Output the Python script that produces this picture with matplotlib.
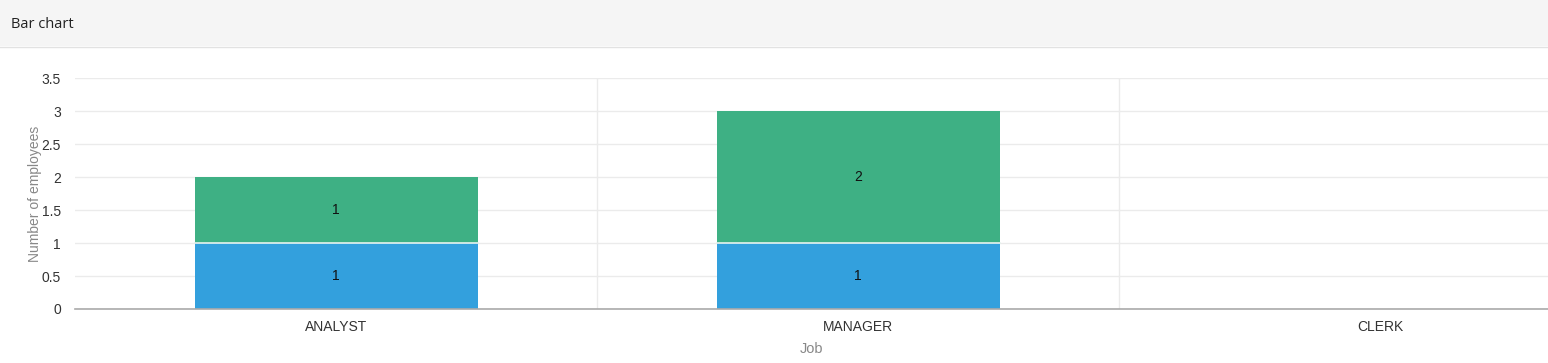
import matplotlib.pyplot as plt
import numpy as np

# Data
jobs = ["ANALYST", "MANAGER", "CLERK"]
series_a = [1, 1, 0]
series_b = [1, 2, 0]
colors = ["#33a0dd", "#3eb084"]

W, H = 1548, 363
fig = plt.figure(figsize=(W / 100, H / 100), dpi=100)
plt.rcParams["font.family"] = ["Liberation Sans", "DejaVu Sans"]

# Header band
fig.patches.append(plt.Rectangle((0, 1 - 46 / H), 1, 46 / H, transform=fig.transFigure,
                                 facecolor="#f5f5f5", edgecolor="none", zorder=0))
fig.lines.append(plt.Line2D([0, 1], [1 - 46.5 / H] * 2, transform=fig.transFigure,
                            color="#e2e2e2", lw=1))
fig.text(11 / W, 1 - 24 / H, "Bar chart", fontsize=10.5, family=["Open Sans", "DejaVu Sans"],
         color="#222222", va="center", ha="left")

# Plot area
left, right, top, bottom = 75, 1548, 78, 309
ax = fig.add_axes([left / W, 1 - bottom / H, (right - left) / W, (bottom - top) / H])

band = 522.0
x = np.arange(len(jobs))
bw = 283 / band
ax.bar(x, series_a, width=bw, color=colors[0], zorder=2)
ax.bar(x, series_b, width=bw, bottom=series_a, color=colors[1], zorder=2,
       edgecolor="none")
# thin separator line between the stacked segments
for xi, a, b in zip(x, series_a, series_b):
    if a > 0 and b > 0:
        ax.plot([xi - bw / 2, xi + bw / 2], [a, a], color="#e8f3ee", lw=1.2, zorder=3)

for xi, a, b in zip(x, series_a, series_b):
    if a > 0:
        ax.text(xi, a / 2, str(a), ha="center", va="center", fontsize=10, color="#111111", zorder=4)
    if b > 0:
        ax.text(xi, a + b / 2, str(b), ha="center", va="center", fontsize=10, color="#111111", zorder=4)

ax.set_xlim(-0.5, -0.5 + (right - left) / band)
ax.set_ylim(0, 3.5)
ax.set_yticks(np.arange(0, 3.6, 0.5))
ax.set_yticklabels(["0", "0.5", "1", "1.5", "2", "2.5", "3", "3.5"])
ax.set_xticks(x)
ax.set_xticklabels(jobs)
ax.set_xticks([0.5, 1.5], minor=True)

ax.grid(axis="y", which="major", color="#ebebeb", lw=1, zorder=0)
ax.grid(axis="x", which="minor", color="#ebebeb", lw=1, zorder=0)
ax.tick_params(axis="both", which="both", length=0, labelsize=10, colors="#333333")
ax.tick_params(axis="x", pad=8)
ax.tick_params(axis="y", pad=10)
for s in ["top", "right", "left"]:
    ax.spines[s].set_visible(False)
ax.spines["bottom"].set_color("#aaaaaa")
ax.spines["bottom"].set_linewidth(1.2)
ax.spines["bottom"].set_zorder(5)

ax.set_xlabel("Job", fontsize=10.5, color="#888888", labelpad=6)
ax.set_ylabel("Number of employees", fontsize=10, color="#888888", labelpad=0)

fig.savefig("out.png", dpi=100)
